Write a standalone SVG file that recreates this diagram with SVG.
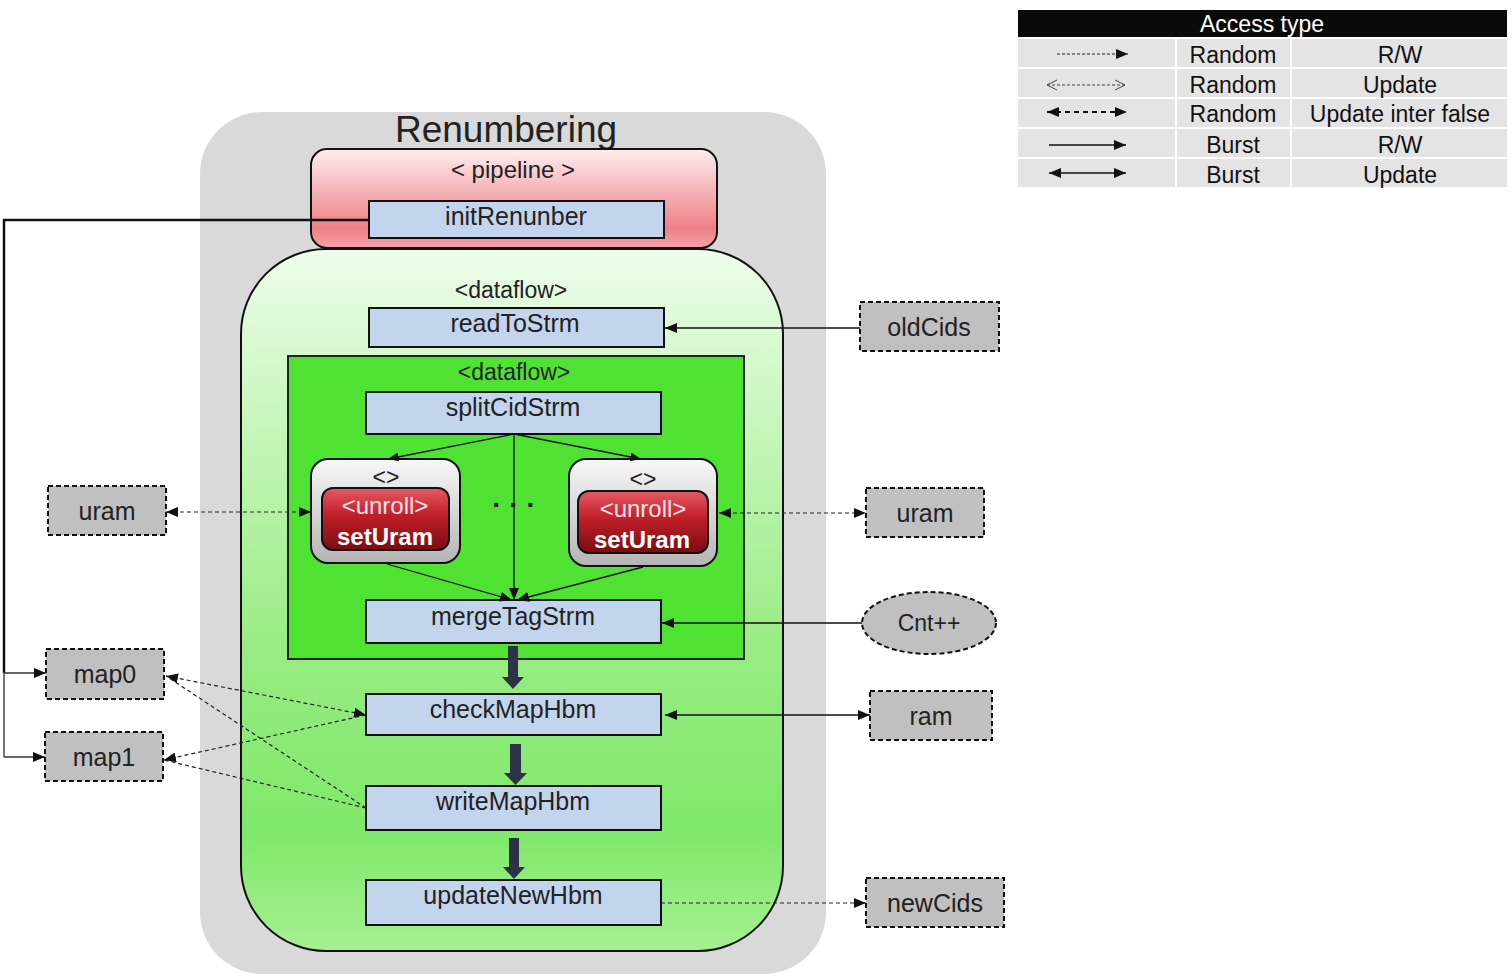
<svg xmlns="http://www.w3.org/2000/svg" width="1512" height="977" viewBox="0 0 1512 977">
<defs>
<linearGradient id="gPipe" x1="0" y1="0" x2="0" y2="1">
<stop offset="0" stop-color="#fdeef0"/><stop offset="0.8" stop-color="#ef8086"/><stop offset="1" stop-color="#f4a3a8"/>
</linearGradient>
<linearGradient id="gDf" x1="0" y1="0" x2="0" y2="1">
<stop offset="0" stop-color="#edfdea"/><stop offset="0.57" stop-color="#98ec82"/><stop offset="0.83" stop-color="#7fe86a"/><stop offset="1" stop-color="#a6f092"/>
</linearGradient>
<linearGradient id="gGray" x1="0" y1="0" x2="0" y2="1">
<stop offset="0" stop-color="#f8f8f8"/><stop offset="1" stop-color="#b4b4b4"/>
</linearGradient>
<linearGradient id="gRed" x1="0" y1="0" x2="0" y2="1">
<stop offset="0" stop-color="#e65a64"/><stop offset="0.45" stop-color="#bf1e28"/><stop offset="1" stop-color="#7a0c10"/>
</linearGradient>
<marker id="ah" viewBox="0 0 12 10" refX="12" refY="5" markerWidth="12" markerHeight="10" markerUnits="userSpaceOnUse" orient="auto-start-reverse">
<path d="M0,0 L12,5 L0,10 z" fill="#111"/>
</marker>
<marker id="ahs" viewBox="0 0 12 10" refX="12" refY="5" markerWidth="11" markerHeight="9" markerUnits="userSpaceOnUse" orient="auto-start-reverse">
<path d="M0,0 L12,5 L0,10 z" fill="#111"/>
</marker>
<marker id="ao" viewBox="0 0 12 12" refX="11" refY="6" markerWidth="12" markerHeight="12" markerUnits="userSpaceOnUse" orient="auto-start-reverse">
<path d="M1,1 L11,6 L1,11" fill="none" stroke="#444" stroke-width="1"/>
</marker>
<style>
.t{font-family:"Liberation Sans",Arial,sans-serif;fill:#222;text-anchor:middle}
.box{fill:#c3d5ed;stroke:#111;stroke-width:2}
.ext{fill:#c0c0c0;stroke:#111;stroke-width:2;stroke-dasharray:5,3}
.cell{fill:#e4e4e4}
.ln{fill:none;stroke:#111;stroke-width:1.3}
.dl{fill:none;stroke:#222;stroke-width:1.2;stroke-dasharray:4,3}
.fat{fill:#2d3248}
</style>
</defs>

<!-- outer container -->
<g id="renumbering">
<rect x="200" y="112" width="626" height="862" rx="62" fill="#d9d9d9"/>
<text class="t" x="506" y="142" font-size="37" fill="#111">Renumbering</text>
</g>

<g id="pipeline">
<rect x="311" y="149" width="406" height="99" rx="16" fill="url(#gPipe)" stroke="#111" stroke-width="2"/>
<text class="t" x="513" y="178" font-size="24">&lt; pipeline &gt;</text>
</g>
<g id="initRenunber">
<rect class="box" x="369" y="201" width="295" height="37"/>
<text class="t" x="516" y="225" font-size="25">initRenunber</text>
</g>

<g id="dataflow-outer">
<rect x="241" y="249" width="542" height="702" rx="85" fill="url(#gDf)" stroke="#111" stroke-width="2"/>
<text class="t" x="511" y="298" font-size="23">&lt;dataflow&gt;</text>
</g>
<g id="readToStrm">
<rect class="box" x="369" y="308" width="295" height="39"/>
<text class="t" x="515" y="332" font-size="25">readToStrm</text>
</g>

<g id="dataflow-inner">
<rect x="288" y="356" width="456" height="303" fill="#50e232" stroke="#222" stroke-width="2"/>
<text class="t" x="514" y="380" font-size="23">&lt;dataflow&gt;</text>
</g>
<g id="splitCidStrm">
<rect class="box" x="366" y="392" width="295" height="42"/>
<text class="t" x="513" y="416" font-size="25">splitCidStrm</text>
</g>

<g id="setUram-left">
<rect x="311" y="459" width="149" height="104" rx="17" fill="url(#gGray)" stroke="#111" stroke-width="2"/>
<text class="t" x="386" y="485" font-size="23">&lt;&gt;</text>
<rect x="322" y="488" width="127" height="62" rx="11" fill="url(#gRed)" stroke="#111" stroke-width="2"/>
<text class="t" x="385" y="514" font-size="24" style="fill:#f8e4e4">&lt;unroll&gt;</text>
<text class="t" x="385" y="545" font-size="24" font-weight="bold" style="fill:#ffffff">setUram</text>
</g>

<g id="setUram-right">
<rect x="569" y="459" width="148" height="107" rx="17" fill="url(#gGray)" stroke="#111" stroke-width="2"/>
<text class="t" x="643" y="487" font-size="23">&lt;&gt;</text>
<rect x="578" y="491" width="130" height="62" rx="11" fill="url(#gRed)" stroke="#111" stroke-width="2"/>
<text class="t" x="643" y="517" font-size="24" style="fill:#f8e4e4">&lt;unroll&gt;</text>
<text class="t" x="642" y="548" font-size="24" font-weight="bold" style="fill:#ffffff">setUram</text>
</g>

<g id="dots">
<text class="t" x="514" y="514" font-size="28" font-weight="bold">· · ·</text>
</g>

<g id="mergeTagStrm">
<rect class="box" x="366" y="600" width="295" height="43"/>
<text class="t" x="513" y="625" font-size="25">mergeTagStrm</text>
</g>
<g id="checkMapHbm">
<rect class="box" x="366" y="694" width="295" height="41"/>
<text class="t" x="513" y="718" font-size="25">checkMapHbm</text>
</g>
<g id="writeMapHbm">
<rect class="box" x="366" y="786" width="295" height="44"/>
<text class="t" x="513" y="810" font-size="25">writeMapHbm</text>
</g>
<g id="updateNewHbm">
<rect class="box" x="366" y="880" width="295" height="45"/>
<text class="t" x="513" y="904" font-size="25">updateNewHbm</text>
</g>

<!-- external nodes -->
<g id="oldCids">
<rect class="ext" x="860" y="302" width="139" height="49"/>
<text class="t" x="929" y="336" font-size="25">oldCids</text>
</g>
<g id="uram-right">
<rect class="ext" x="866" y="488" width="118" height="49"/>
<text class="t" x="925" y="522" font-size="25">uram</text>
</g>
<g id="cnt">
<ellipse cx="929" cy="623" rx="67" ry="31" fill="#c0c0c0" stroke="#111" stroke-width="2" stroke-dasharray="5,3"/>
<text class="t" x="929" y="631" font-size="23">Cnt++</text>
</g>
<g id="ram">
<rect class="ext" x="870" y="691" width="122" height="49"/>
<text class="t" x="931" y="725" font-size="25">ram</text>
</g>
<g id="newCids">
<rect class="ext" x="866" y="878" width="138" height="49"/>
<text class="t" x="935" y="912" font-size="25">newCids</text>
</g>
<g id="uram-left">
<rect class="ext" x="48" y="486" width="118" height="49"/>
<text class="t" x="107" y="520" font-size="25">uram</text>
</g>
<g id="map0">
<rect class="ext" x="46" y="649" width="118" height="50"/>
<text class="t" x="105" y="683" font-size="25">map0</text>
</g>
<g id="map1">
<rect class="ext" x="45" y="732" width="118" height="49"/>
<text class="t" x="104" y="766" font-size="25">map1</text>
</g>

<!-- connectors -->
<g id="connectors">
<line class="ln" x1="514" y1="434" x2="388" y2="459" marker-end="url(#ahs)"/>
<line class="ln" x1="514" y1="434" x2="641" y2="459" marker-end="url(#ahs)"/>
<line class="ln" x1="514" y1="434" x2="514" y2="600" marker-end="url(#ah)"/>
<line class="ln" x1="387" y1="564" x2="512" y2="600" marker-end="url(#ah)"/>
<line class="ln" x1="643" y1="567" x2="517" y2="600" marker-end="url(#ah)"/>
<path class="fat" d="M508,646 H518 V677 H524 L513,689 L502,677 H508 Z"/>
<path class="fat" d="M510,744 H521 V773 H527 L515.5,785 L504,773 H510 Z"/>
<path class="fat" d="M509,838 H519 V867 H525 L514,879 L503,867 H509 Z"/>
<line class="ln" x1="860" y1="328" x2="665" y2="328" marker-end="url(#ah)"/>
<line class="dl" x1="719" y1="513" x2="866" y2="513" marker-start="url(#ah)" marker-end="url(#ah)"/>
<line class="ln" x1="862" y1="623" x2="662" y2="623" marker-end="url(#ah)"/>
<line class="ln" x1="665" y1="715" x2="870" y2="715" marker-start="url(#ah)" marker-end="url(#ah)"/>
<line class="dl" x1="661" y1="903" x2="866" y2="903" marker-end="url(#ah)"/>
<line class="dl" x1="166" y1="512" x2="311" y2="512" marker-start="url(#ah)" marker-end="url(#ah)"/>
<path d="M369,220 H4 V673" fill="none" stroke="#111" stroke-width="2.5"/>
<path d="M4,672 V757" fill="none" stroke="#444" stroke-width="1.5"/>
<line x1="4" y1="673" x2="46" y2="673" stroke="#333" stroke-width="1.5" marker-end="url(#ah)"/>
<line x1="4" y1="757" x2="45" y2="757" stroke="#333" stroke-width="1.5" marker-end="url(#ah)"/>
<line class="dl" x1="166" y1="676" x2="366" y2="715" marker-start="url(#ah)" marker-end="url(#ah)"/>
<line class="dl" x1="366" y1="715" x2="164" y2="760" marker-end="url(#ah)"/>
<line class="dl" x1="366" y1="808" x2="166" y2="676"/>
<line class="dl" x1="366" y1="808" x2="164" y2="760"/>
</g>

<!-- legend -->
<g id="legend">
<rect x="1018" y="10" width="489" height="27" fill="#0a0a0a"/>
<text class="t" x="1262" y="32" font-size="23" style="fill:#fff">Access type</text>
<rect class="cell" x="1018" y="39" width="157" height="28"/>
<rect class="cell" x="1177" y="39" width="113" height="28"/>
<rect class="cell" x="1292" y="39" width="215" height="28"/>
<rect class="cell" x="1018" y="69" width="157" height="28"/>
<rect class="cell" x="1177" y="69" width="113" height="28"/>
<rect class="cell" x="1292" y="69" width="215" height="28"/>
<rect class="cell" x="1018" y="99" width="157" height="28"/>
<rect class="cell" x="1177" y="99" width="113" height="28"/>
<rect class="cell" x="1292" y="99" width="215" height="28"/>
<rect class="cell" x="1018" y="129" width="157" height="28"/>
<rect class="cell" x="1177" y="129" width="113" height="28"/>
<rect class="cell" x="1292" y="129" width="215" height="28"/>
<rect class="cell" x="1018" y="159" width="157" height="28"/>
<rect class="cell" x="1177" y="159" width="113" height="28"/>
<rect class="cell" x="1292" y="159" width="215" height="28"/>
<line x1="1057" y1="54" x2="1128" y2="54" stroke="#222" stroke-width="1" stroke-dasharray="3,2" marker-end="url(#ah)"/>
<line x1="1047" y1="85" x2="1125" y2="85" stroke="#444" stroke-width="1" stroke-dasharray="3,2" marker-start="url(#ao)" marker-end="url(#ao)"/>
<line x1="1047" y1="112" x2="1127" y2="112" stroke="#111" stroke-width="2" stroke-dasharray="5,4" marker-start="url(#ah)" marker-end="url(#ah)"/>
<line x1="1049" y1="145" x2="1126" y2="145" stroke="#111" stroke-width="1.5" marker-end="url(#ah)"/>
<line x1="1049" y1="173" x2="1126" y2="173" stroke="#111" stroke-width="1.5" marker-start="url(#ah)" marker-end="url(#ah)"/>
<text class="t" x="1233" y="63" font-size="23" style="fill:#111">Random</text>
<text class="t" x="1400" y="63" font-size="23" style="fill:#111">R/W</text>
<text class="t" x="1233" y="93" font-size="23" style="fill:#111">Random</text>
<text class="t" x="1400" y="93" font-size="23" style="fill:#111">Update</text>
<text class="t" x="1233" y="122" font-size="23" style="fill:#111">Random</text>
<text class="t" x="1400" y="122" font-size="23" style="fill:#111">Update inter false</text>
<text class="t" x="1233" y="153" font-size="23" style="fill:#111">Burst</text>
<text class="t" x="1400" y="153" font-size="23" style="fill:#111">R/W</text>
<text class="t" x="1233" y="183" font-size="23" style="fill:#111">Burst</text>
<text class="t" x="1400" y="183" font-size="23" style="fill:#111">Update</text>
</g>
</svg>
